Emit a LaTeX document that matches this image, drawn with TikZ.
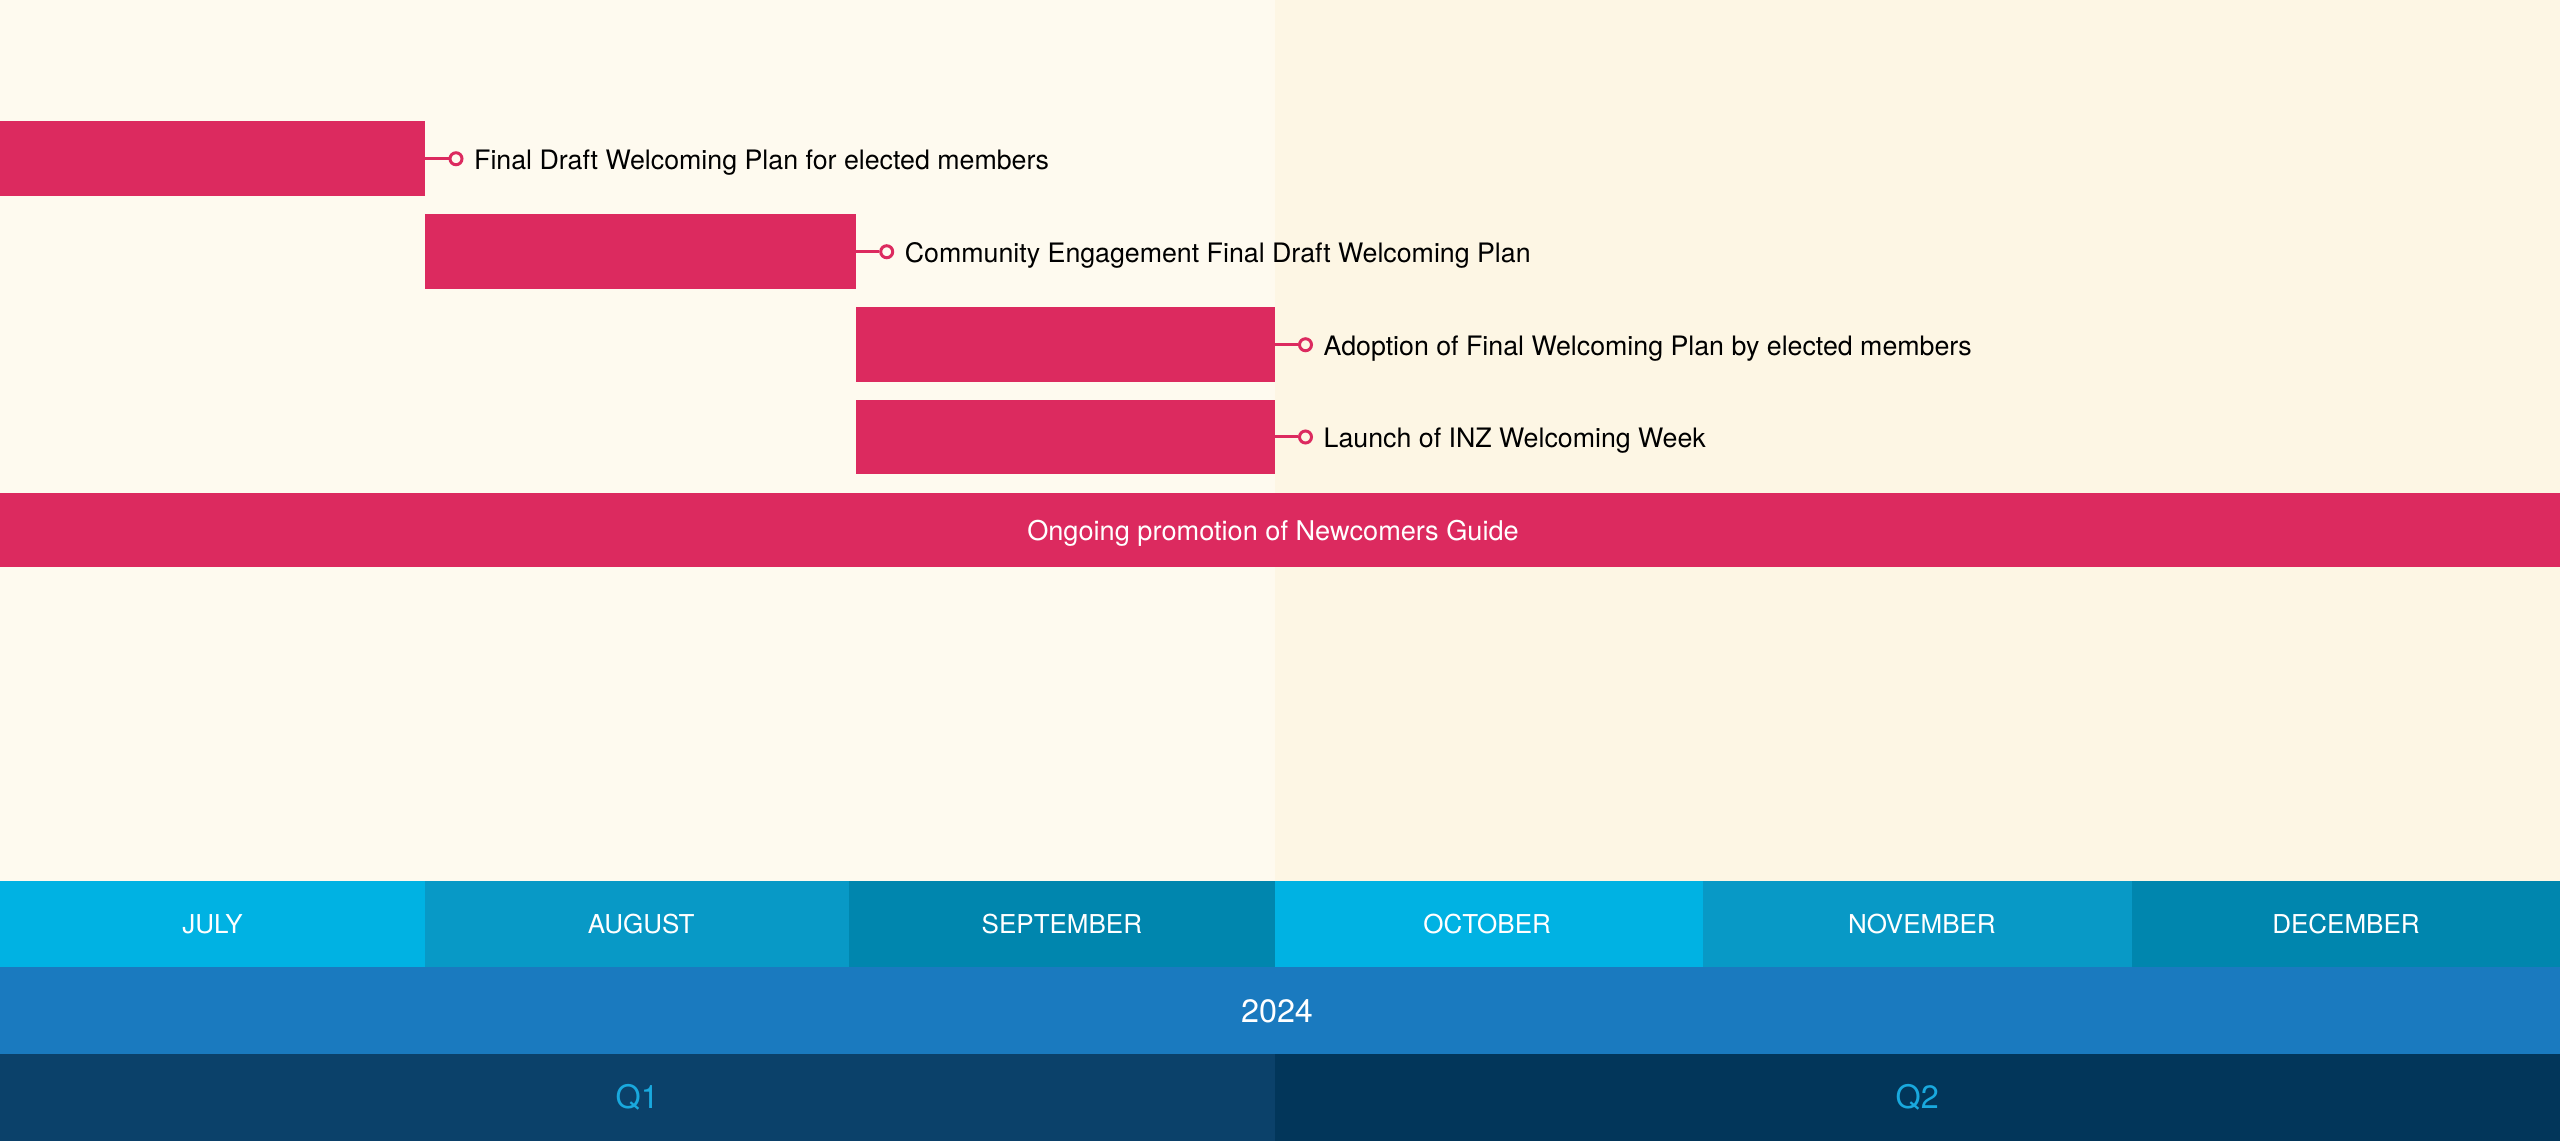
\documentclass[tikz,border=0pt]{standalone}
\usepackage{fontspec}
\setmainfont{TeX Gyre Heros}
\usetikzlibrary{fit,calc}
\definecolor{bgL}{HTML}{FEFAEF}
\definecolor{bgR}{HTML}{FDF6E4}
\definecolor{pink}{HTML}{DC2A5F}
\definecolor{mA}{HTML}{00B2E3}
\definecolor{mB}{HTML}{0899C6}
\definecolor{mC}{HTML}{0086AE}
\definecolor{yr}{HTML}{1A7ABF}
\definecolor{qa}{HTML}{0B416A}
\definecolor{qb}{HTML}{02365A}
\definecolor{qt}{HTML}{19A9DE}
\begin{document}
\begin{tikzpicture}[x=0.3pt,y=-0.3pt,
 cell/.style={inner sep=0pt, outer sep=0pt, draw=none},
 celltext/.style={inner sep=0pt, text=white, font=\fontsize{7.8}{9}\selectfont},
 bigtext/.style={inner sep=0pt, text=white, font=\fontsize{9.7}{11}\selectfont},
 barbox/.style={fill=pink, inner sep=0pt, outer sep=0pt},
 dot/.style={circle, draw=pink, fill=bgL, line width=0.9pt, minimum size=3.6pt, inner sep=0pt},
 conn/.style={draw=pink, line width=0.9pt},
 lbl/.style={anchor=west, inner sep=0pt, font=\fontsize{8.03}{9.5}\selectfont, text=black}]
\useasboundingbox (0,0) rectangle (2560,1141);
\fill[bgL] (0,0) rectangle (1274.5,881);
\fill[bgR] (1274.5,0) rectangle (2560,881);

% task bars
\node[barbox, fit={(0,121.5) (425,196)}] (b1) {};
\node[barbox, fit={(425,214.5) (855.7,289)}] (b2) {};
\node[barbox, fit={(855.7,307.5) (1274.5,382)}] (b3) {};
\node[barbox, fit={(855.7,400) (1274.5,474)}] (b4) {};
\node[barbox, fit={(0,493) (2560,567)}] (b5) {};
\node[celltext, font=\fontsize{8.15}{9.5}\selectfont] (b5t) at ($(b5.center)+(-7,3)$) {Ongoing promotion of Newcomers Guide};

% connectors, dots, labels
\node[dot] (d1) at ($(b1.east)+(31,0)$) {};
\node[dot] (d2) at ($(b2.east)+(31,0)$) {};
\node[dot, fill=bgR] (d3) at ($(b3.east)+(31,0)$) {};
\node[dot, fill=bgR] (d4) at ($(b4.east)+(31,0)$) {};
\draw[conn] (b1.east) -- (d1.west);
\draw[conn] (b2.east) -- (d2.west);
\draw[conn] (b3.east) -- (d3.west);
\draw[conn] (b4.east) -- (d4.west);
\node[lbl] (t1) at ($(d1.east)+(10,3.5)$) {Final Draft Welcoming Plan for elected members};
\node[lbl] (t2) at ($(d2.east)+(10,3.5)$) {Community Engagement Final Draft Welcoming Plan};
\node[lbl] (t3) at ($(d3.east)+(10,3.5)$) {Adoption of Final Welcoming Plan by elected members};
\node[lbl] (t4) at ($(d4.east)+(10,3.5)$) {Launch of INZ Welcoming Week};

% months
\node[cell, fill=mA, fit={(0,881) (425,967.5)}] (m1) {};
\node[cell, fill=mB, fit={(425,881) (849.3,967.5)}] (m2) {};
\node[cell, fill=mC, fit={(849.3,881) (1274.5,967.5)}] (m3) {};
\node[cell, fill=mA, fit={(1274.5,881) (1702.7,967.5)}] (m4) {};
\node[cell, fill=mB, fit={(1702.7,881) (2132,967.5)}] (m5) {};
\node[cell, fill=mC, fit={(2132,881) (2560,967.5)}] (m6) {};
\node[celltext] (m1t) at (m1.center) {JULY};
\node[celltext] (m2t) at ($(m2.center)+(4,0)$) {AUGUST};
\node[celltext] (m3t) at (m3.center) {SEPTEMBER};
\node[celltext] (m4t) at ($(m4.center)+(-1.5,0)$) {OCTOBER};
\node[celltext] (m5t) at ($(m5.center)+(4.5,0)$) {NOVEMBER};
\node[celltext] (m6t) at (m6.center) {DECEMBER};

% year
\node[cell, fill=yr, fit={(0,967.5) (2560,1054.5)}] (y1) {};
\node[bigtext] (y1t) at ($(y1.center)+(-3,0)$) {2024};

% quarters
\node[cell, fill=qa, fit={(0,1054.5) (1274.5,1141)}] (q1) {};
\node[cell, fill=qb, fit={(1274.5,1054.5) (2560,1141)}] (q2) {};
\node[bigtext, text=qt] (q1t) at (q1.center) {Q1};
\node[bigtext, text=qt] (q2t) at (q2.center) {Q2};
\end{tikzpicture}
\end{document}
